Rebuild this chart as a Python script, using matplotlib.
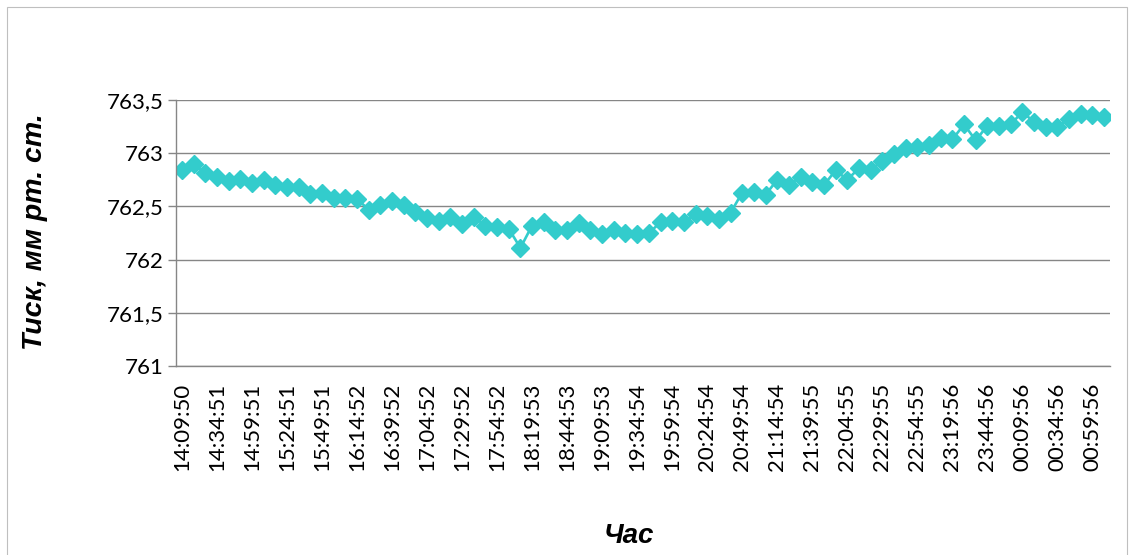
import matplotlib
matplotlib.use('Agg')
import matplotlib.pyplot as plt
from matplotlib.patches import Rectangle
import numpy as np

# Atmospheric pressure readings, one per ~8 min 20 s
PRESSURE = [
    762.84, 762.90, 762.81, 762.78, 762.74, 762.76, 762.72, 762.75, 762.70, 762.68,
    762.68, 762.62, 762.63, 762.58, 762.58, 762.57, 762.47, 762.51, 762.55, 762.51,
    762.45, 762.39, 762.36, 762.40, 762.33, 762.40, 762.32, 762.31, 762.29, 762.11,
    762.32, 762.35, 762.28, 762.28, 762.34, 762.28, 762.24, 762.28, 762.25, 762.24,
    762.25, 762.35, 762.36, 762.35, 762.43, 762.41, 762.38, 762.44, 762.63, 762.64,
    762.61, 762.75, 762.70, 762.78, 762.73, 762.70, 762.84, 762.75, 762.86, 762.84,
    762.93, 762.99, 763.05, 763.06, 763.08, 763.14, 763.13, 763.27, 763.12, 763.26,
    763.26, 763.27, 763.39, 763.29, 763.25, 763.25, 763.32, 763.37, 763.36, 763.34,
]

# Every third reading gets a time label
TIME_LABELS = [
    '14:09:50', '14:34:51', '14:59:51', '15:24:51', '15:49:51', '16:14:52',
    '16:39:52', '17:04:52', '17:29:52', '17:54:52', '18:19:53', '18:44:53',
    '19:09:53', '19:34:54', '19:59:54', '20:24:54', '20:49:54', '21:14:54',
    '21:39:55', '22:04:55', '22:29:55', '22:54:55', '23:19:56', '23:44:56',
    '00:09:56', '00:34:56', '00:59:56',
]
LABEL_STEP = 3

Y_TICKS = [761, 761.5, 762, 762.5, 763, 763.5]

LINE_COLOR = '#33CCCC'
GRID_COLOR = '#868686'

W, H = 1134, 555
fig = plt.figure(figsize=(W / 100, H / 100), dpi=100)

# outer chart border
fig.patches.append(Rectangle((7 / W, -0.05), 1120 / W, 1 - 7 / H + 0.05,
                             transform=fig.transFigure, fill=False,
                             edgecolor='#BFBFBF', linewidth=0.8))

ax = fig.add_axes([176 / W, 1 - 366 / H, (1110 - 176) / W, (366 - 100) / H])

x = np.arange(len(PRESSURE))
ax.plot(x, PRESSURE, color=LINE_COLOR, linewidth=1.9, marker='D',
        markersize=9.5, markerfacecolor=LINE_COLOR, markeredgecolor=LINE_COLOR)

ax.set_xlim(-0.5, len(PRESSURE) - 0.5)
ax.set_ylim(761, 763.5)

ax.set_yticks(Y_TICKS)
ax.set_yticklabels([f'{v:g}'.replace('.', ',') for v in Y_TICKS])
ax.yaxis.grid(True, color=GRID_COLOR, linewidth=1.0)
ax.set_axisbelow(True)

tick_pos = x[::LABEL_STEP][:len(TIME_LABELS)]
ax.set_xticks(tick_pos)
ax.set_xticklabels(TIME_LABELS, rotation=90)

for side in ['top', 'right']:
    ax.spines[side].set_visible(False)
for side in ['left', 'bottom']:
    ax.spines[side].set_color(GRID_COLOR)
    ax.spines[side].set_linewidth(1.0)

ax.tick_params(axis='y', length=6, width=1.0, color=GRID_COLOR, pad=3,
               labelsize=16)
ax.tick_params(axis='x', length=0, pad=12, labelsize=16)
for lbl in ax.get_xticklabels() + ax.get_yticklabels():
    lbl.set_fontfamily('Lato')

fig.text(35 / W, 1 - 232 / H, 'Тиск, мм рт. ст.', rotation=90,
         ha='center', va='center', fontsize=20.5, fontweight='bold',
         fontstyle='italic', family='Liberation Sans')
fig.text(629 / W, 1 - 536 / H, 'Час', ha='center', va='center',
         fontsize=20, fontweight='bold', fontstyle='italic',
         family='Liberation Sans')

fig.savefig('out.png', dpi=100)
